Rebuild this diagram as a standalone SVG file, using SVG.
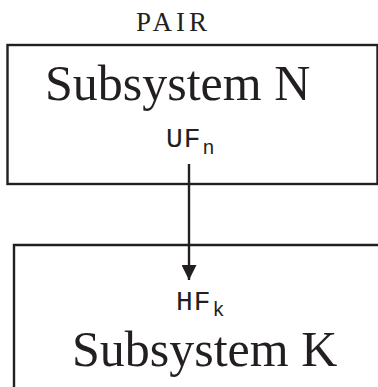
<svg xmlns="http://www.w3.org/2000/svg" width="378" height="387" viewBox="0 0 378 387">
<defs>
<style>
.box{fill:#fff;stroke:#231f20;stroke-width:2.4}
.title{font-family:"Liberation Serif","Times New Roman",serif;font-size:50px;fill:#231f20}
.lbl{font-family:"Liberation Serif","Times New Roman",serif;font-size:27px;letter-spacing:4px;fill:#231f20}
.mono{font-family:"Liberation Mono","Courier New",monospace;font-size:28px;letter-spacing:1px;fill:#231f20}
.sub{font-size:20px;letter-spacing:0}
.edge{stroke:#231f20;stroke-width:2.4;fill:none}
</style>
<marker id="arr" markerWidth="15" markerHeight="15" refX="15" refY="7.5" orient="auto" markerUnits="userSpaceOnUse">
<path d="M0,0 L15,7.5 L0,15 Z" fill="#231f20"/>
</marker>
</defs>
<text class="lbl" x="136" y="31">PAIR</text>
<g id="subsystemN">
<rect class="box" x="7.5" y="45" width="370" height="139"/>
<text class="mono" x="166" y="147">UF<tspan class="sub" dx="1" dy="7">n</tspan></text>
<text class="title" x="45" y="100">Subsystem N</text>
</g>
<g id="subsystemK">
<path class="box" d="M14,400 V245 H380"/>
<text class="mono" x="176" y="310">HF<tspan class="sub" dx="1" dy="6">k</tspan></text>
<text class="title" x="72" y="366">Subsystem K</text>
</g>
<g id="connectors">
<path class="edge" d="M189,164 V280" marker-end="url(#arr)"/>
</g>
</svg>
